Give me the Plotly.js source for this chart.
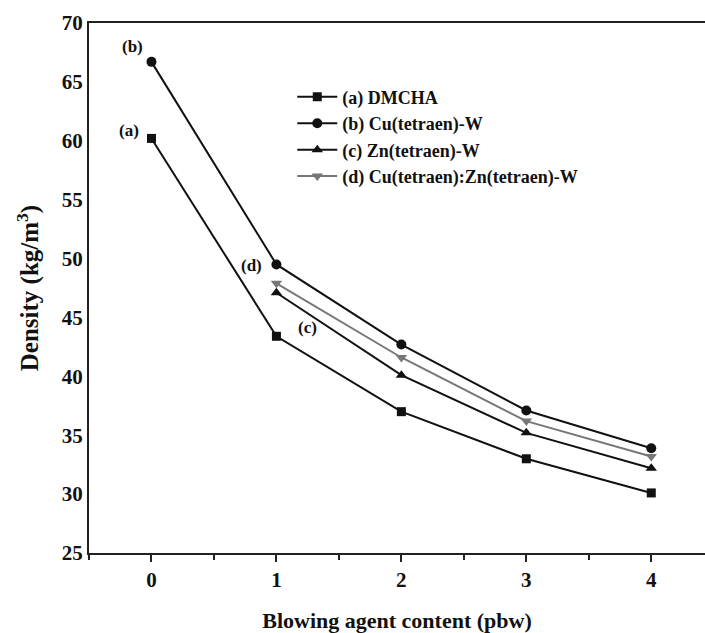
<!DOCTYPE html>
<html>
<head>
<meta charset="utf-8">
<script src="https://cdn.plot.ly/plotly-3.0.1.min.js"></script>
<style>html,body{margin:0;padding:0;background:#fff;}#chart{width:705px;height:633px;}</style>
</head>
<body>
<div id="chart"></div>
<script>
const xAll = [0, 1, 2, 3, 4];
const xFrom1 = [1, 2, 3, 4];
const dmcha = [60.2, 43.4, 37.0, 33.0, 30.1];
const cuTetraen = [66.7, 49.5, 42.7, 37.1, 33.9];
const znTetraen = [47.1, 40.1, 35.2, 32.2];
const cuZnTetraen = [47.9, 41.6, 36.2, 33.2];
const seriesNames = ['(a) DMCHA', '(b) Cu(tetraen)-W', '(c) Zn(tetraen)-W', '(d) Cu(tetraen):Zn(tetraen)-W'];
const pointLabels = ['(b)', '(a)', '(d)', '(c)'];
const labelX = [0, 0, 1, 1];
const labelY = [66.7, 60.2, 49.5, 47.1];

const FONT = 'Liberation Serif, Times New Roman, serif';
const traces = [
  {x: xAll, y: dmcha, name: seriesNames[0], mode: 'lines+markers',
   line: {color: '#111', width: 2}, marker: {symbol: 'square', size: 9, color: '#111'}},
  {x: xAll, y: cuTetraen, name: seriesNames[1], mode: 'lines+markers',
   line: {color: '#111', width: 2}, marker: {symbol: 'circle', size: 10, color: '#111'}},
  {x: xFrom1, y: znTetraen, name: seriesNames[2], mode: 'lines+markers',
   line: {color: '#111', width: 2}, marker: {symbol: 'triangle-up', size: 10, color: '#111'}},
  {x: xFrom1, y: cuZnTetraen, name: seriesNames[3], mode: 'lines+markers',
   line: {color: '#777', width: 2}, marker: {symbol: 'triangle-down', size: 10, color: '#777'}}
];

const annotations = [
  {x: labelX[0], y: labelY[0], text: pointLabels[0], xanchor: 'right', yanchor: 'bottom', xshift: -6, yshift: 4},
  {x: labelX[1], y: labelY[1], text: pointLabels[1], xanchor: 'right', yanchor: 'bottom', xshift: -10, yshift: -4},
  {x: labelX[2], y: labelY[2], text: pointLabels[2], xanchor: 'right', yanchor: 'middle', xshift: -12, yshift: -1},
  {x: labelX[3], y: labelY[3], text: pointLabels[3], xanchor: 'left', yanchor: 'top', xshift: 20, yshift: -23}
].map(a => Object.assign(a, {xref: 'x', yref: 'y', showarrow: false,
  font: {family: FONT, size: 17, color: '#111', weight: 'bold'}}));

const layout = {
  width: 705, height: 633,
  margin: {l: 89, r: 0, t: 23, b: 80},
  paper_bgcolor: '#fff', plot_bgcolor: '#fff',
  showlegend: true,
  legend: {x: 0.33, y: 0.895, xanchor: 'left', yanchor: 'top', bgcolor: 'rgba(0,0,0,0)',
    font: {family: FONT, size: 18, color: '#111', weight: 'bold'}, itemwidth: 40, tracegroupgap: 0},
  xaxis: {
    range: [-0.5, 4.43], tickvals: xAll, ticks: 'outside', ticklen: 7, tickwidth: 2, tickcolor: '#222',
    minor: {dtick: 0.5, ticks: 'outside', ticklen: 5, tickwidth: 2, tickcolor: '#222'},
    showgrid: false, zeroline: false, showline: true, linecolor: '#222', linewidth: 2, mirror: true,
    tickfont: {family: FONT, size: 21, color: '#111', weight: 'bold'},
    title: {text: 'Blowing agent content (pbw)', standoff: 22,
      font: {family: FONT, size: 22, color: '#111', weight: 'bold'}}
  },
  yaxis: {
    range: [25, 70], dtick: 5, ticks: '', showgrid: false, zeroline: false,
    showline: true, linecolor: '#222', linewidth: 2,
    tickfont: {family: FONT, size: 21, color: '#111', weight: 'bold'},
    title: {text: 'Density (kg/m<sup>3</sup>)', standoff: 16,
      font: {family: FONT, size: 25, color: '#111', weight: 'bold'}}
  },
  annotations: annotations
};

Plotly.newPlot('chart', traces, layout, {displayModeBar: false, staticPlot: true});
</script>
</body>
</html>
